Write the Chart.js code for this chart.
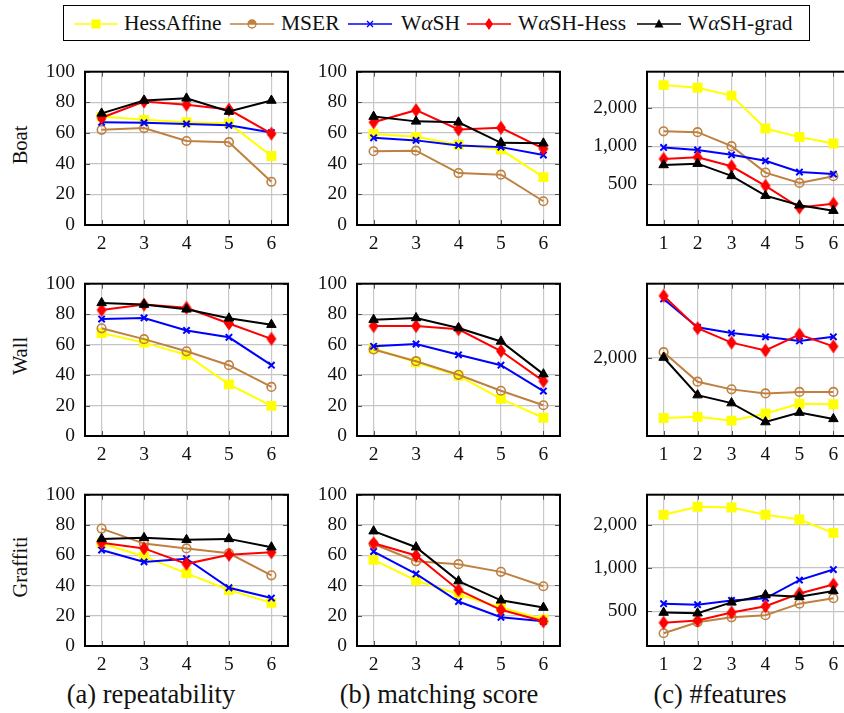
<!DOCTYPE html>
<html>
<head>
<meta charset="utf-8">
<script src="https://cdn.jsdelivr.net/npm/chart.js@4.4.1/dist/chart.umd.min.js"></script>
<style>
  body { margin: 0; width: 844px; height: 713px; overflow: hidden; background: #fff; position: relative;
         font-family: "Liberation Serif", "Times New Roman", serif; color: #111; }
  canvas.panel { position: absolute; }
  #legend { position: absolute; left: 63px; top: 5px; width: 747px; height: 36px; border: 1px solid #000; box-sizing: border-box; }
  .sample { position: absolute; top: 8px; }
  .ltext { position: absolute; top: 5px; font-size: 21.5px; line-height: 24px; white-space: nowrap; }
  .rowlabel { position: absolute; font-size: 20.5px; transform: translate(-50%, -50%) rotate(-90deg); white-space: nowrap; }
  .caption { position: absolute; top: 679px; font-size: 26.5px; transform: translateX(-50%); white-space: nowrap; }
</style>
</head>
<body>
<div id="legend"></div>
<div class="rowlabel" style="left:20px; top:145px">Boat</div>
<div class="rowlabel" style="left:20px; top:356px">Wall</div>
<div class="rowlabel" style="left:20px; top:567px">Graffiti</div>
<div class="caption" style="left:151px">(a) repeatability</div>
<div class="caption" style="left:439px">(b) matching score</div>
<div class="caption" style="left:720px">(c) #features</div>
<script>
// series order: HessAffine, MSER, WαSH, WαSH-Hess, WαSH-grad
const detectors = ['HessAffine', 'MSER', 'WαSH', 'WαSH-Hess', 'WαSH-grad'];
const viewpointSteps = [2, 3, 4, 5, 6];
const featureSteps = [1, 2, 3, 4, 5, 6];
const percentTicks = [0, 10, 20, 30, 40, 50, 60, 70, 80, 90, 100];
const featureTicks = [500, 1000, 2000];
// log axis limits per row (Boat, Wall, Graffiti)
const featureMin = [238, 1134, 287];
const featureMax = [3880, 3427, 3229];

const boatRepeatability = [
  [70.7, 68.6, 67, 66.3, 45],
  [62.1, 63.2, 54.8, 54, 28.2],
  [67, 66.7, 65.9, 65, 60.3],
  [70, 80.5, 78.5, 75.3, 59.6],
  [72.8, 81.2, 82.6, 74, 81.2]
];
const boatMatching = [
  [59.4, 57.5, 52.3, 49.2, 31.2],
  [48.1, 48.5, 33.9, 32.8, 15.5],
  [56.9, 55.2, 51.9, 50.8, 45.6],
  [67, 74.9, 62.3, 63.4, 49.8],
  [70.7, 67.6, 67, 53.6, 53.3]
];
const boatFeatures = [
  [3040, 2900, 2510, 1380, 1180, 1050],
  [1310, 1290, 1000, 618, 512, 579],
  [977, 933, 855, 766, 624, 602],
  [793, 817, 693, 486, 327, 351],
  [710, 727, 582, 406, 341, 309]
];
const wallRepeatability = [
  [67.6, 61.3, 53.3, 33.9, 19.8],
  [70.7, 63.6, 55.6, 46.5, 32.2],
  [76.8, 77.5, 69.3, 64.8, 46.5],
  [82.7, 86.3, 84.2, 73.9, 63.8],
  [87.4, 86.3, 83.2, 77.3, 73.1]
];
const wallMatching = [
  [57.5, 48.4, 39.6, 24.4, 12],
  [56.8, 49.1, 40.2, 29.7, 20.2],
  [58.9, 60.4, 53.3, 46.5, 29.5],
  [72.2, 72.2, 70.1, 55.8, 36],
  [76.4, 77.5, 70.9, 62.1, 40.6]
];
const wallFeatures = [
  [1292, 1304, 1268, 1335, 1434, 1428],
  [2084, 1682, 1591, 1545, 1562, 1562],
  [3067, 2496, 2394, 2330, 2261, 2330],
  [3138, 2480, 2234, 2110, 2368, 2174],
  [2005, 1526, 1440, 1255, 1344, 1284]
];
const graffitiRepeatability = [
  [67.9, 59.2, 48, 37, 28.5],
  [77.6, 67.7, 64.5, 61.3, 46.7],
  [63.4, 55.6, 57.7, 38.5, 31.7],
  [68.3, 64.5, 54.3, 60.3, 61.9],
  [70.8, 71.5, 70.2, 70.8, 65.3]
];
const graffitiMatching = [
  [56.9, 43.3, 34.2, 25.4, 17.5],
  [67.4, 56, 54.1, 49, 39.5],
  [62.4, 47.6, 29.4, 19, 16.3],
  [67.9, 59.8, 37, 23.9, 16.3],
  [75.9, 65.3, 42.9, 30.2, 25.4]
];
const graffitiFeatures = [
  [2343, 2661, 2634, 2343, 2170, 1752],
  [352, 420, 454, 470, 565, 616],
  [565, 556, 595, 616, 824, 975],
  [416, 431, 490, 542, 665, 767],
  [490, 485, 577, 648, 632, 693]
];

const FONT = '"Liberation Serif", "Times New Roman", serif';
const colors = ['#ffff00', '#bf8040', '#0000ff', '#ff0000', '#000000'];

// red diamond marker (taller than wide, like pgfplots)
function diamondImage() {
  const c = document.createElement('canvas');
  c.width = 12; c.height = 15;
  const g = c.getContext('2d');
  g.fillStyle = '#ff0000';
  g.beginPath();
  g.moveTo(6, 0.5); g.lineTo(11, 7.5); g.lineTo(6, 14.5); g.lineTo(1, 7.5);
  g.closePath(); g.fill();
  return c;
}
const diamond = diamondImage();

function markerStyle(i) {
  if (i == 0) return { pointStyle: 'rect', pointRadius: 7, pointBorderWidth: 0, pointBackgroundColor: colors[0] };
  if (i == 1) return { pointStyle: 'circle', pointRadius: 4.3, pointBorderWidth: 1.6, pointBackgroundColor: 'rgba(0,0,0,0)' };
  if (i == 2) return { pointStyle: 'crossRot', pointRadius: 4.5, pointBorderWidth: 2 };
  if (i == 3) return { pointStyle: diamond, pointRadius: 6 };
  return { pointStyle: 'triangle', pointRadius: 5.5, pointBorderWidth: 1, pointBackgroundColor: '#000' };
}

const framePlugin = {
  id: 'frame',
  beforeDatasetsDraw(chart) {
    const { ctx, chartArea: a, scales } = chart;
    ctx.save();
    ctx.strokeStyle = '#555';
    ctx.lineWidth = 1;
    ctx.beginPath();
    scales.y.ticks.forEach(t => {
      const y = Math.round(scales.y.getPixelForValue(t.value)) + 0.5;
      const len = (scales.y.type == 'linear' && t.value % 20 != 0) ? 3 : 5;
      ctx.moveTo(a.left, y); ctx.lineTo(a.left + len, y);
      ctx.moveTo(a.right, y); ctx.lineTo(a.right - len, y);
    });
    scales.x.ticks.forEach(t => {
      const x = Math.round(scales.x.getPixelForValue(t.value)) + 0.5;
      ctx.moveTo(x, a.top); ctx.lineTo(x, a.top + 5);
      ctx.moveTo(x, a.bottom); ctx.lineTo(x, a.bottom - 5);
    });
    ctx.stroke();
    ctx.restore();
  },
  afterDatasetsDraw(chart) {
    const { ctx, chartArea: a } = chart;
    ctx.save();
    ctx.strokeStyle = '#000';
    ctx.lineWidth = 2;
    ctx.strokeRect(a.left, a.top, a.right - a.left, a.bottom - a.top);
    ctx.restore();
  }
};

const PAD_L = 70, PAD_T = 15, PAD_R = 15, PAD_B = 36, BOX_W = 203;
const colLeft = [85, 357, 647];
const rowTop = [65, 277, 488];
const rowHeight = [160, 159, 158];

function makePanel(row, col, values) {
  const isLog = col == 2;
  const steps = isLog ? featureSteps : viewpointSteps;
  const canvas = document.createElement('canvas');
  canvas.className = 'panel';
  const w = BOX_W + PAD_L + PAD_R, h = rowHeight[row] + PAD_T + PAD_B;
  canvas.width = w; canvas.height = h;
  canvas.style.left = (colLeft[col] - PAD_L) + 'px';
  canvas.style.top = (rowTop[row] - PAD_T) + 'px';
  canvas.style.width = w + 'px'; canvas.style.height = h + 'px';
  document.body.appendChild(canvas);

  const datasets = detectors.map((name, i) => Object.assign({
    label: name,
    data: steps.map((x, j) => ({ x: x, y: values[i][j] })),
    borderColor: colors[i],
    backgroundColor: colors[i],
    pointBorderColor: colors[i],
    borderWidth: 2,
    tension: 0,
    order: 5 - i
  }, markerStyle(i)));

  const tickFont = { family: FONT, size: 19.5 };
  new Chart(canvas.getContext('2d'), {
    type: 'line',
    data: { datasets },
    options: {
      responsive: false,
      animation: false,
      events: [],
      layout: { padding: { top: PAD_T, right: PAD_R, left: 0, bottom: 0 } },
      plugins: { legend: { display: false }, tooltip: { enabled: false } },
      scales: {
        x: {
          type: 'linear',
          min: isLog ? 0.511 : 1.609,
          max: isLog ? 6.489 : 6.391,
          afterBuildTicks: s => { s.ticks = steps.map(v => ({ value: v })); },
          afterFit: s => { s.height = PAD_B; },
          grid: { color: '#c8c8c8', lineWidth: 1.2, drawTicks: false },
          border: { display: false },
          ticks: { font: tickFont, color: '#111', padding: 7, maxRotation: 0, callback: v => String(v) }
        },
        y: {
          type: isLog ? 'logarithmic' : 'linear',
          min: isLog ? featureMin[row] : 0,
          max: isLog ? featureMax[row] : 100,
          afterBuildTicks: s => {
            const list = isLog ? featureTicks.filter(v => v >= s.min && v <= s.max) : percentTicks;
            s.ticks = list.map(v => ({ value: v }));
          },
          afterFit: s => { s.width = PAD_L; },
          grid: {
            color: c => (!isLog && c.tick && c.tick.value % 20 != 0) ? '#d6d6d6' : '#c4c4c4',
            lineWidth: 1.2,
            drawTicks: false
          },
          border: { display: false },
          ticks: {
            font: tickFont, color: '#111', padding: 10,
            callback: v => isLog ? Number(v).toLocaleString('en-US') : (v % 20 == 0 ? String(v) : '')
          }
        }
      }
    },
    plugins: [framePlugin]
  });
}

const panels = [
  [boatRepeatability, boatMatching, boatFeatures],
  [wallRepeatability, wallMatching, wallFeatures],
  [graffitiRepeatability, graffitiMatching, graffitiFeatures]
];
panels.forEach((rowData, r) => rowData.forEach((vals, c) => makePanel(r, c, vals)));

// legend: line sample with marker, then the label
function drawSample(g, i) {
  const cy = 10;
  g.strokeStyle = colors[i]; g.fillStyle = colors[i]; g.lineWidth = 1.5;
  g.beginPath(); g.moveTo(0, cy); g.lineTo(44, cy); g.stroke();
  const cx = 22;
  g.beginPath();
  if (i == 0) { g.fillRect(cx - 4.5, cy - 4.5, 9, 9); }
  if (i == 1) { g.lineWidth = 1.4; g.arc(cx, cy, 4, 0, Math.PI * 2); g.stroke(); g.beginPath(); g.arc(cx, cy, 4, Math.PI, 0); g.fill(); }
  if (i == 2) { g.lineWidth = 1.4; g.moveTo(cx - 3, cy - 3); g.lineTo(cx + 3, cy + 3); g.moveTo(cx + 3, cy - 3); g.lineTo(cx - 3, cy + 3); g.stroke(); }
  if (i == 3) { g.moveTo(cx, cy - 6); g.lineTo(cx + 4, cy); g.lineTo(cx, cy + 6); g.lineTo(cx - 4, cy); g.closePath(); g.fill(); }
  if (i == 4) { g.moveTo(cx, cy - 5); g.lineTo(cx + 4.5, cy + 3.5); g.lineTo(cx - 4.5, cy + 3.5); g.closePath(); g.fill(); }
}
const legend = document.getElementById('legend');
const sampleLeft = [10, 166, 284, 403, 573];
const textLeft = [60, 217, 337, 454, 624];
const legendHtml = ['HessAffine', 'MSER', 'W<i>α</i>SH', 'W<i>α</i>SH-Hess', 'W<i>α</i>SH-grad'];
detectors.forEach((name, i) => {
  const c = document.createElement('canvas');
  c.className = 'sample'; c.width = 44; c.height = 20;
  c.style.left = sampleLeft[i] + 'px';
  drawSample(c.getContext('2d'), i);
  legend.appendChild(c);
  const t = document.createElement('span');
  t.className = 'ltext'; t.style.left = textLeft[i] + 'px';
  t.innerHTML = legendHtml[i];
  legend.appendChild(t);
});
</script>
</body>
</html>
